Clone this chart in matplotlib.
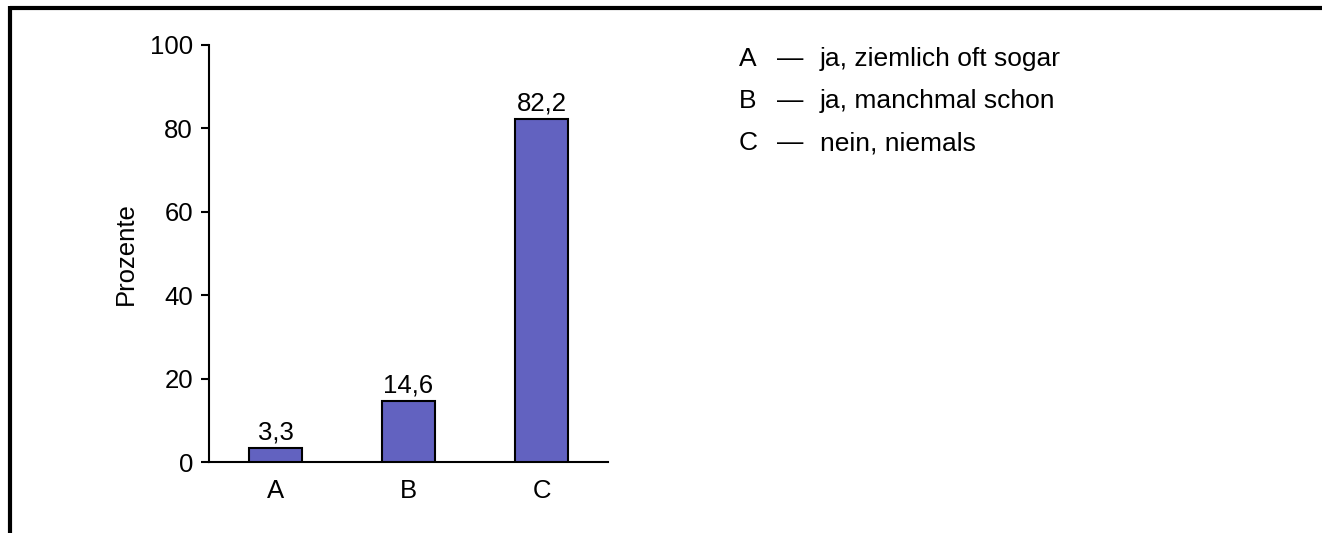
import matplotlib
matplotlib.use("Agg")
import matplotlib.pyplot as plt
from matplotlib.lines import Line2D

categories = ["A", "B", "C"]
values = [3.3, 14.6, 82.2]
value_labels = ["3,3", "14,6", "82,2"]
legend_texts = ["ja, ziemlich oft sogar", "ja, manchmal schon", "nein, niemals"]
yticks = [0, 20, 40, 60, 80, 100]

plt.rcParams['font.family'] = ['Liberation Sans', 'DejaVu Sans']
FS = 18.5

W, H = 1322, 533
fig = plt.figure(figsize=(W / 100, H / 100), dpi=100)
ax = fig.add_axes([209 / W, 1 - 462 / H, (608 - 209) / W, (462 - 45) / H])

x = list(range(len(categories)))
ax.bar(x, values, width=0.4, color="#6262c0", edgecolor="black", linewidth=1.5, zorder=3)
for xi, v, lab in zip(x, values, value_labels):
    ax.annotate(lab, (xi, v), xytext=(0, 2.5), textcoords="offset points",
                ha="center", va="bottom", fontsize=FS)

ax.set_xlim(-0.5, 2.5)
ax.set_ylim(0, 100)
ax.set_xticks(x)
ax.set_xticklabels(categories, fontsize=FS)
ax.tick_params(axis="x", length=0, pad=12)
ax.set_yticks(yticks)
ax.set_yticklabels([str(t) for t in yticks], fontsize=FS)
ax.tick_params(axis="y", length=5.5, width=1.5, direction="out", pad=6)
for s in ["top", "right"]:
    ax.spines[s].set_visible(False)
for s in ["left", "bottom"]:
    ax.spines[s].set_linewidth(1.5)
ax.set_ylabel("Prozente", fontsize=FS, labelpad=9)

# legend-like text list
rows_y = [59, 101, 143]
for cat, txt, ry in zip(categories, legend_texts, rows_y):
    yy = 1 - ry / H
    fig.text(739 / W, yy, cat, fontsize=19, va="center", ha="left")
    fig.text(777 / W, yy, "\u2014", fontsize=19, va="center", ha="left")
    fig.text(820 / W, yy, txt, fontsize=19, va="center", ha="left")

# frame lines (top and left)
fig.add_artist(Line2D([10.3 / W, 1.0], [1 - 8 / H, 1 - 8 / H], color="black", linewidth=3,
                      transform=fig.transFigure, solid_capstyle="butt"))
fig.add_artist(Line2D([10.3 / W, 10.3 / W], [0, 1 - 6 / H], color="black", linewidth=3,
                      transform=fig.transFigure, solid_capstyle="butt"))

fig.savefig("out.png", dpi=100)
